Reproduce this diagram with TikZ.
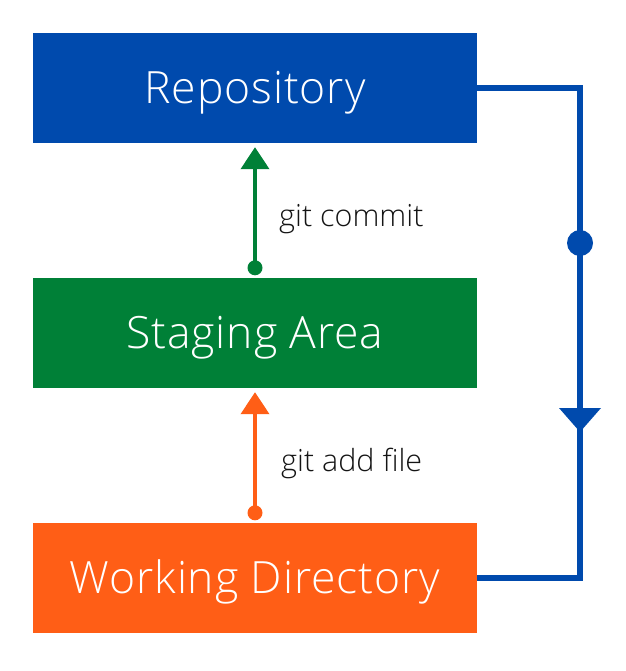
\documentclass[tikz,border=0pt]{standalone}
\usepackage{fontspec}
\setmainfont{Open Sans}[UprightFont=* Light]
\usetikzlibrary{arrows.meta}
\definecolor{gblue}{RGB}{0,74,173}
\definecolor{ggreen}{RGB}{0,128,55}
\definecolor{gorange}{RGB}{255,94,22}
\definecolor{gtext}{RGB}{20,20,20}
\newcommand{\boxtext}[1]{\smash{\raisebox{-15.5pt}{#1}}}
\tikzset{
  area/.style={minimum width=444pt, minimum height=110pt, inner sep=0pt, text=white, font=\fontsize{44.5}{52}\selectfont\addfontfeatures{LetterSpace=2}},
  lab/.style={anchor=base west, text=gtext, font=\fontsize{30.5}{36}\selectfont, inner sep=0pt},
  uparrow/.style={line width=4pt, -{Triangle[width=28pt,length=22pt]}},
  flow/.style={draw=gblue, line width=6pt, line join=miter}
}
\begin{document}
\begin{tikzpicture}[x=1pt,y=-1pt]
\useasboundingbox (0,0) rectangle (625,671);
\node[area, fill=gblue] (repo) at (255,88) {\boxtext{Repository}};
\node[area, fill=ggreen] (stage) at (255,333) {\boxtext{Staging Area}};
\node[area, fill=gorange] (work) at (255,578) {\boxtext{Working Directory}};
% green arrow
\coordinate (gs) at ([yshift=10pt]stage.north);
\draw[uparrow, draw=ggreen, fill=ggreen] (gs) -- ([yshift=-4pt]repo.south);
\fill[ggreen] (gs) circle (7.5pt);
\node[lab] (lcommit) at (279,226) {git commit};
% orange arrow
\coordinate (os) at ([yshift=10pt]work.north);
\draw[uparrow, draw=gorange, fill=gorange] (os) -- ([yshift=-4pt]stage.south);
\fill[gorange] (os) circle (7.5pt);
\node[lab] (ladd) at (281,471) {git add file};
% blue loop
\coordinate (c1) at (580,88);
\coordinate (c2) at (580,578);
\draw[flow] (repo.east) -- (c1) -- (c2) -- (work.east);
\coordinate (dotc) at (580,243);
\fill[gblue] (dotc) circle (13pt);
\coordinate (tipc) at (580,432);
\fill[gblue] ([shift={(-21,-24)}]tipc) -- ([shift={(21,-24)}]tipc) -- (tipc) -- cycle;
\end{tikzpicture}
\end{document}
